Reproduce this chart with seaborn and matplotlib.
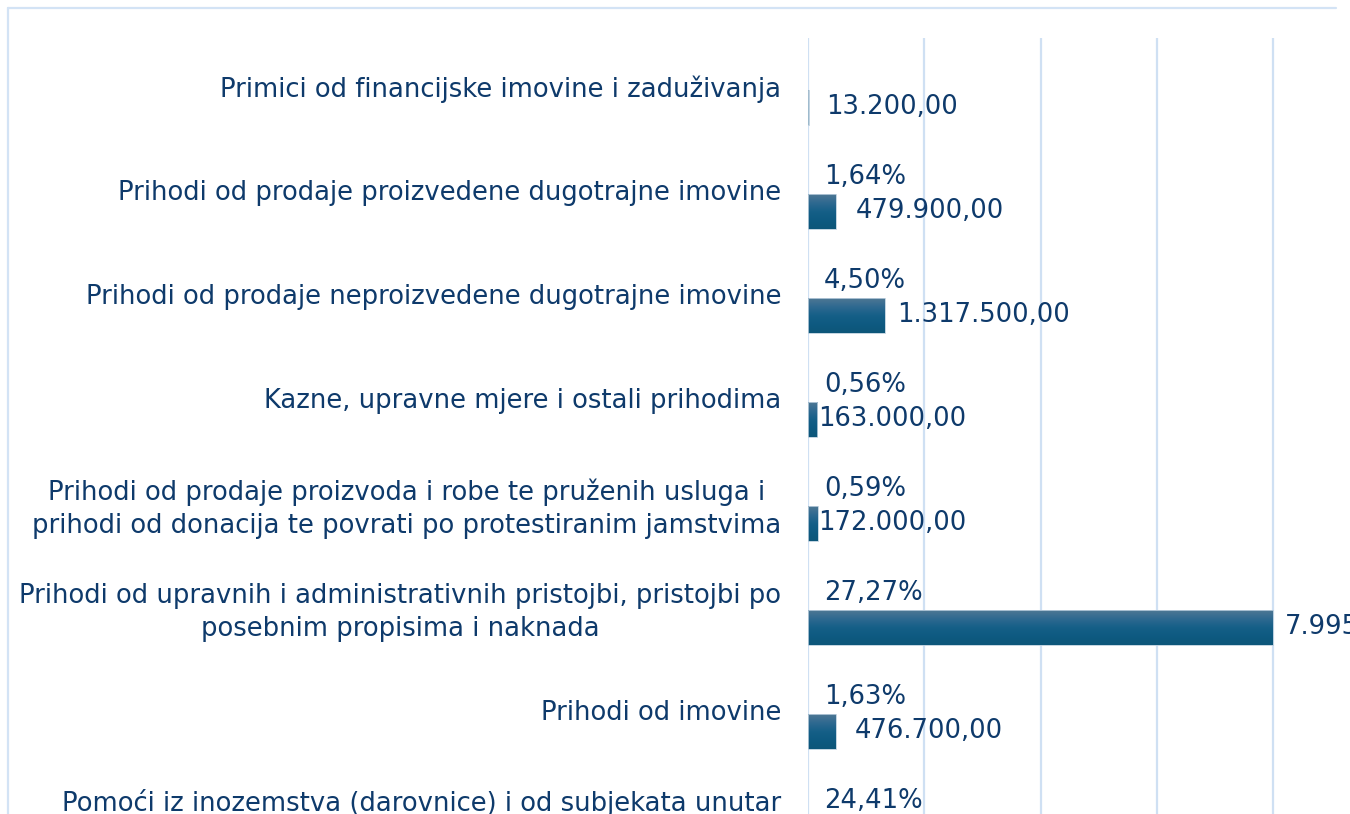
import numpy as np
import pandas as pd
import matplotlib
matplotlib.use('Agg')
import matplotlib.pyplot as plt
from matplotlib.colors import LinearSegmentedColormap
from matplotlib.lines import Line2D
from matplotlib.transforms import ScaledTranslation
import seaborn as sns

# ─── Data ─────────────────────────────────────────────────────────────────────

categories = [
    'Primici od financijske imovine i zaduživanja',
    'Prihodi od prodaje proizvedene dugotrajne imovine',
    'Prihodi od prodaje neproizvedene dugotrajne imovine',
    'Kazne, upravne mjere i ostali prihodima',
    'Prihodi od prodaje proizvoda i robe te pruženih usluga i\n'
    'prihodi od donacija te povrati po protestiranim jamstvima',
    'Prihodi od upravnih i administrativnih pristojbi, pristojbi po\n'
    'posebnim propisima i naknada',
    'Prihodi od imovine',
    'Pomoći iz inozemstva (darovnice) i od subjekata unutar\n'
    'općeg proračuna',
]
amounts = [13200, 479900, 1317500, 163000, 172000, 7995000, 476700, 7147000]
shares = [np.nan, 1.64, 4.50, 0.56, 0.59, 27.27, 1.63, 24.41]

# px gap between bar end and its amount label (as in the original)
amount_pad_px = [17, 20, 13, 1, 0, 12, 19, 15]

df = pd.DataFrame({
    'kategorija': categories * 2,
    'serija': ['udio'] * len(categories) + ['iznos'] * len(categories),
    'vrijednost': list(np.nan_to_num(shares)) + amounts,
})

TXT = '#0E3A6B'
GRID = '#CFE0F3'
FS = 18.6
W, H, DPI = 1350, 814, 100


def fmt_hr(v):
    s = f'{v:,.2f}'
    return s.replace(',', 'X').replace('.', ',').replace('X', '.')


# ─── Plot ─────────────────────────────────────────────────────────────────────

sns.set_theme(style='white')
plt.rcParams['font.family'] = ['DejaVu Sans']

fig = plt.figure(figsize=(W / DPI, H / DPI), dpi=DPI)
row_px = 104
top_px = 38
ax = fig.add_axes([808 / W, 1 - (top_px + row_px * len(categories)) / H,
                   581.25 / W, row_px * len(categories) / H])

bar_w = 0.673
sns.barplot(data=df, y='kategorija', x='vrijednost', hue='serija',
            hue_order=['udio', 'iznos'], orient='h', width=bar_w,
            dodge=True, palette=['#1D5F86', '#1D5F86'], legend=False,
            errorbar=None, ax=ax)

# gradient fill for amount bars
cmap = LinearSegmentedColormap.from_list(
    'bar', ['#4E7794', '#2E6990', '#155F87', '#0E5A81', '#0D5679'])
grad = np.linspace(0, 1, 64).reshape(-1, 1)
for p in ax.containers[0]:
    p.set_facecolor('none'); p.set_edgecolor('none')
for p in ax.containers[1]:
    x0, y0, w, h = p.get_x(), p.get_y(), p.get_width(), p.get_height()
    ax.imshow(grad, cmap=cmap, aspect='auto', extent=(x0, x0 + w, y0 + h, y0),
              zorder=2, interpolation='bicubic')
    p.set_facecolor('none'); p.set_edgecolor('#B9CDDC'); p.set_linewidth(0.6)
    p.set_zorder(3)

# labels
for i, (v, s, pad) in enumerate(zip(amounts, shares, amount_pad_px)):
    yc_val = i + bar_w / 4
    yc_pct = i - bar_w / 4
    ax.annotate(fmt_hr(v), xy=(v, yc_val), xytext=(pad * 0.72, 0),
                textcoords='offset points', va='center', ha='left',
                fontsize=FS, color=TXT, annotation_clip=False)
    if not np.isnan(s):
        ax.annotate(f'{s:.2f}%'.replace('.', ','), xy=(0, yc_pct),
                    xytext=(16 * 0.72, 0), textcoords='offset points',
                    va='center', ha='left', fontsize=FS, color=TXT,
                    annotation_clip=False)

ax.set_xlim(0, 10_000_000)
ax.set_ylim(len(categories) - 0.5, -0.5)
ax.set_xticks(np.arange(0, 10_000_001, 2_000_000))
ax.set_xticklabels([])
ax.grid(axis='x', color=GRID, lw=1.6)
ax.grid(axis='y', visible=False)
ax.set_axisbelow(True)
for sp in ax.spines.values():
    sp.set_visible(False)
ax.set_xlabel(''); ax.set_ylabel('')
ax.tick_params(axis='y', length=0, pad=27 * 0.72, labelsize=FS, labelcolor=TXT)
ax.tick_params(axis='x', length=0)
lift = ScaledTranslation(0, 4 / DPI, fig.dpi_scale_trans)
for lab in ax.get_yticklabels():
    lab.set_multialignment('center')
    lab.set_linespacing(1.36)
    lab.set_transform(lab.get_transform() + lift)

# chart-area frame (top + left edges visible in the crop)
fig.add_artist(Line2D([8 / W, 1336 / W], [1 - 8 / H, 1 - 8 / H],
                      color='#D3E3F5', lw=1.6))
fig.add_artist(Line2D([8 / W, 8 / W], [1 - 8 / H, 0],
                      color='#D3E3F5', lw=1.6))

fig.savefig('out.png', dpi=DPI)
